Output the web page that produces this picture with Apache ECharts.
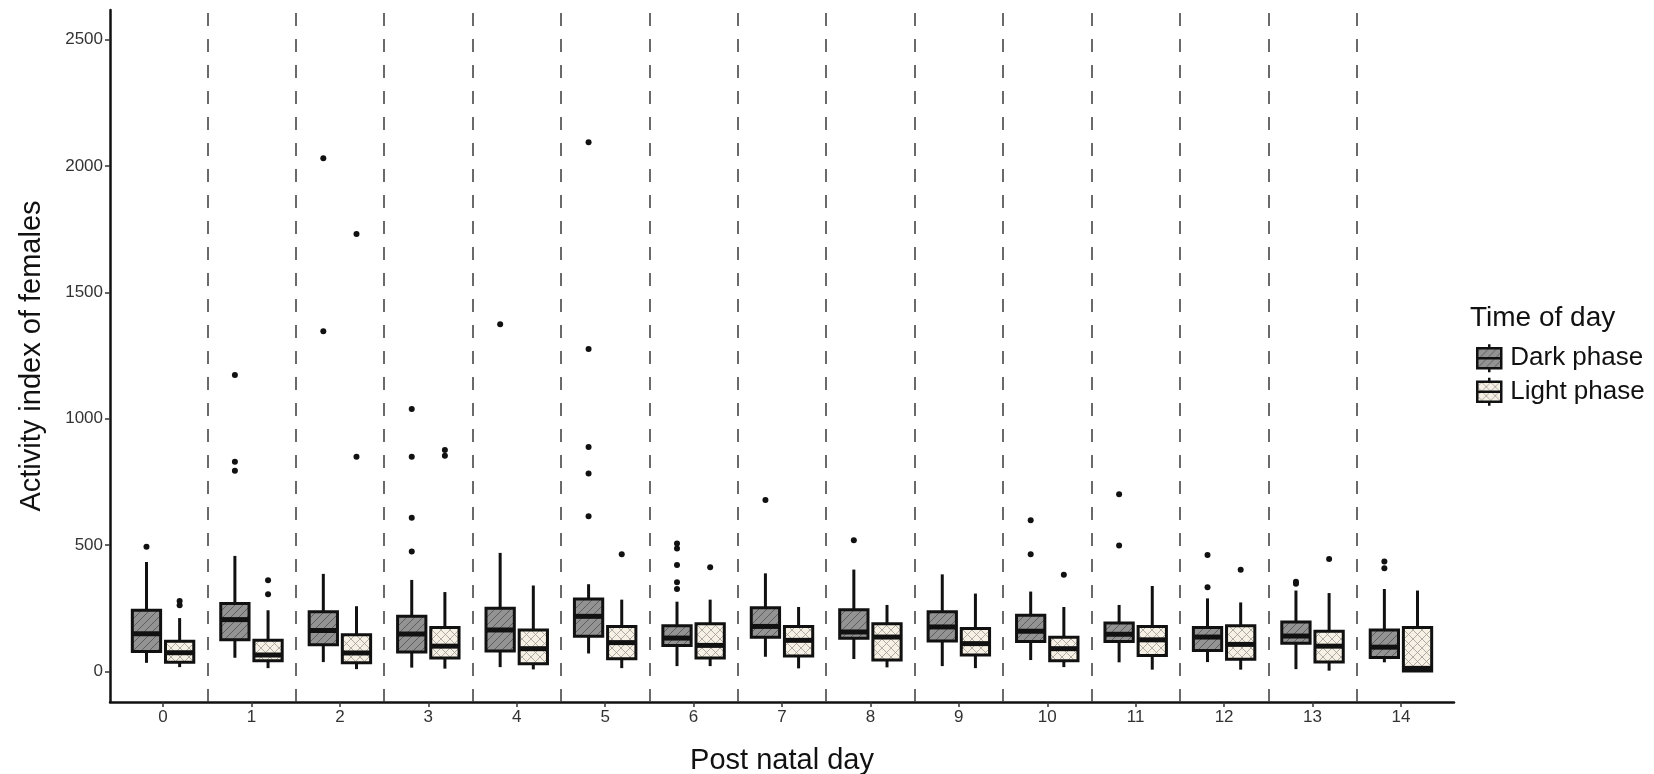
<!DOCTYPE html>
<html>
<head>
<meta charset="utf-8">
<script src="https://cdn.jsdelivr.net/npm/echarts@6/dist/echarts.min.js"></script>
<style>
html,body{margin:0;padding:0;background:#fff;}
#chart{width:1654px;height:774px;}
</style>
</head>
<body>
<div id="chart"></div>
<script>
// ---- data ----
const days = [0,1,2,3,4,5,6,7,8,9,10,11,12,13,14];
const yTicks = [0,500,1000,1500,2000,2500];
const seriesNames = ['Dark phase','Light phase'];
// [lower whisker, Q1, median, Q3, upper whisker] per day
const darkStats = [
  [34,79,149,242,433],
  [54,125,205,269,457],
  [37,106,162,236,386],
  [15,77,148,218,362],
  [17,81,164,250,469],
  [71,139,218,287,345],
  [21,103,132,181,276],
  [58,135,178,252,388],
  [49,131,156,244,403],
  [21,120,176,236,384],
  [45,118,159,222,316],
  [36,118,147,192,263],
  [37,83,136,174,289],
  [9,111,140,196,320],
  [36,55,96,164,326]
];
const lightStats = [
  [17,36,74,119,211],
  [13,42,65,123,242],
  [9,34,73,145,258],
  [11,53,100,174,314],
  [8,30,90,164,340],
  [13,50,114,178,284],
  [21,53,103,189,284],
  [12,61,123,178,255],
  [16,45,136,189,263],
  [13,65,110,170,308],
  [17,42,90,135,255],
  [7,63,125,178,338],
  [7,48,107,181,273],
  [3,37,100,159,310],
  [0,2,12,174,320]
];
// outliers: [day, value]
const darkOutliers = [
  [0,493],
  [1,1173],[1,830],[1,794],
  [2,2030],[2,1346],
  [3,1038],[3,849],[3,608],[3,474],
  [4,1374],
  [5,2094],[5,1276],[5,888],[5,783],[5,614],
  [6,506],[6,486],[6,421],[6,353],[6,326],
  [7,678],
  [8,519],
  [10,598],[10,464],
  [11,701],[11,498],
  [12,461],[12,333],
  [13,355],[13,347],
  [14,435],[14,408]
];
const lightOutliers = [
  [0,279],[0,262],
  [1,361],[1,305],
  [2,1731],[2,849],
  [3,876],[3,853],
  [5,464],
  [6,412],
  [10,382],
  [12,402],
  [13,445]
];
const separators = [0.5,1.5,2.5,3.5,4.5,5.5,6.5,7.5,8.5,9.5,10.5,11.5,12.5,13.5];

// ---- styling helpers ----
const FONT = "'Liberation Sans', Arial, Helvetica, sans-serif";
const DODGE = 0.1875;
const BOXW = 0.32;

function makePattern(kind){
  const c = document.createElement('canvas');
  if(kind === 'dark'){
    c.width = 8; c.height = 8;
    const g = c.getContext('2d');
    g.fillStyle = '#939393'; g.fillRect(0,0,8,8);
    g.strokeStyle = '#5e5e5e'; g.lineWidth = 1;
    g.beginPath();
    g.moveTo(-1,9); g.lineTo(9,-1);
    g.moveTo(-1,1); g.lineTo(1,-1);
    g.moveTo(7,9); g.lineTo(9,7);
    g.stroke();
  } else {
    c.width = 9; c.height = 9;
    const g = c.getContext('2d');
    g.fillStyle = '#f7f1e5'; g.fillRect(0,0,9,9);
    g.strokeStyle = '#9c9a96'; g.lineWidth = 0.8;
    g.beginPath();
    g.moveTo(0,0); g.lineTo(9,9);
    g.moveTo(0,9); g.lineTo(9,0);
    g.stroke();
  }
  return {image: c, repeat: 'repeat'};
}
const darkPattern = makePattern('dark');
const lightPattern = makePattern('light');

function boxRenderer(offset, pattern){
  return function(params, api){
    const x = api.value(0) + offset;
    const lo = api.coord([x, api.value(1)]);
    const q1 = api.coord([x, api.value(2)]);
    const md = api.coord([x, api.value(3)]);
    const q3 = api.coord([x, api.value(4)]);
    const hi = api.coord([x, api.value(5)]);
    const w = api.size([BOXW, 0])[0];
    const cx = lo[0];
    const ln = {stroke:'#111', lineWidth:3};
    return {
      type:'group',
      children:[
        {type:'line', shape:{x1:cx,y1:hi[1],x2:cx,y2:q3[1]}, style:ln},
        {type:'line', shape:{x1:cx,y1:q1[1],x2:cx,y2:lo[1]}, style:ln},
        {type:'rect', shape:{x:cx-w/2,y:q3[1],width:w,height:q1[1]-q3[1]},
          style:{fill:pattern, stroke:'#111', lineWidth:3}},
        {type:'line', shape:{x1:cx-w/2,y1:md[1],x2:cx+w/2,y2:md[1]}, style:{stroke:'#111', lineWidth:5}}
      ]
    };
  };
}

const darkData = days.map((d,i)=>[d].concat(darkStats[i]));
const lightData = days.map((d,i)=>[d].concat(lightStats[i]));
const darkOut = darkOutliers.map(p=>[p[0]-DODGE, p[1]]);
const lightOut = lightOutliers.map(p=>[p[0]+DODGE, p[1]]);

const legendIcon = 'path://M12,0L12,4M0,4L24,4L24,24L0,24ZM12,24L12,28M0,14L24,14';

const chart = echarts.init(document.getElementById('chart'), null, {renderer:'canvas'});
chart.setOption({
  animation:false,
  backgroundColor:'#ffffff',
  textStyle:{fontFamily:FONT},
  title:{
    text:'Time of day', left:1465, top:299,
    textStyle:{fontFamily:FONT, fontSize:28, fontWeight:'normal', color:'#111'}
  },
  legend:{
    orient:'vertical', left:1476, top:343, padding:0, itemGap:3,
    itemWidth:24, itemHeight:28,
    selectedMode:false,
    textStyle:{fontFamily:FONT, fontSize:26, color:'#111', padding:[0,0,0,4]},
    data:[
      {name:'Dark phase', icon:legendIcon, itemStyle:{color:darkPattern, borderColor:'#111', borderWidth:2.5}},
      {name:'Light phase', icon:legendIcon, itemStyle:{color:lightPattern, borderColor:'#111', borderWidth:2.5}}
    ]
  },
  grid:{left:110, right:200, top:10, bottom:72, outerBoundsMode:'none', containLabel:false},
  xAxis:{
    type:'value', min:-0.6, max:14.6,
    name:'Post natal day', nameLocation:'middle', nameGap:44,
    nameTextStyle:{fontFamily:FONT, fontSize:29, color:'#111'},
    axisLine:{show:true, onZero:false, lineStyle:{color:'#111', width:2.5}},
    axisTick:{show:true, customValues:days, length:5, lineStyle:{color:'#333', width:1.5}},
    axisLabel:{show:true, customValues:days, margin:7, fontFamily:FONT, fontSize:17, color:'#333',
      formatter:v=>String(Math.round(v))},
    splitLine:{show:false}
  },
  yAxis:{
    type:'value', min:-121, max:2617,
    name:'Activity index of females', nameLocation:'middle', nameGap:64,
    nameTextStyle:{fontFamily:FONT, fontSize:29, color:'#111'},
    axisLine:{show:true, onZero:false, lineStyle:{color:'#111', width:2.5}},
    axisTick:{show:true, customValues:yTicks, length:5, lineStyle:{color:'#333', width:1.5}},
    axisLabel:{show:true, customValues:yTicks, margin:7, fontFamily:FONT, fontSize:17, color:'#333',
      formatter:v=>String(Math.round(v))},
    splitLine:{show:false}
  },
  series:[
    {
      name:seriesNames[0], type:'custom', data:darkData,
      encode:{x:0, y:[1,2,3,4,5]},
      renderItem:boxRenderer(-DODGE, darkPattern),
      itemStyle:{color:darkPattern},
      z:3,
      markLine:{
        silent:true, symbol:['none','none'], animation:false,
        label:{show:false},
        lineStyle:{type:[13,13], color:'#3a3a3a', width:1.5},
        emphasis:{disabled:true},
        data:separators.map(v=>({xAxis:v}))
      }
    },
    {
      name:seriesNames[1], type:'custom', data:lightData,
      encode:{x:0, y:[1,2,3,4,5]},
      renderItem:boxRenderer(DODGE, lightPattern),
      itemStyle:{color:lightPattern},
      z:3
    },
    {
      name:'darkOutliers', type:'scatter', data:darkOut, symbolSize:6,
      itemStyle:{color:'#111', opacity:1}, z:4, silent:true
    },
    {
      name:'lightOutliers', type:'scatter', data:lightOut, symbolSize:6,
      itemStyle:{color:'#111', opacity:1}, z:4, silent:true
    }
  ]
});
</script>
</body>
</html>
